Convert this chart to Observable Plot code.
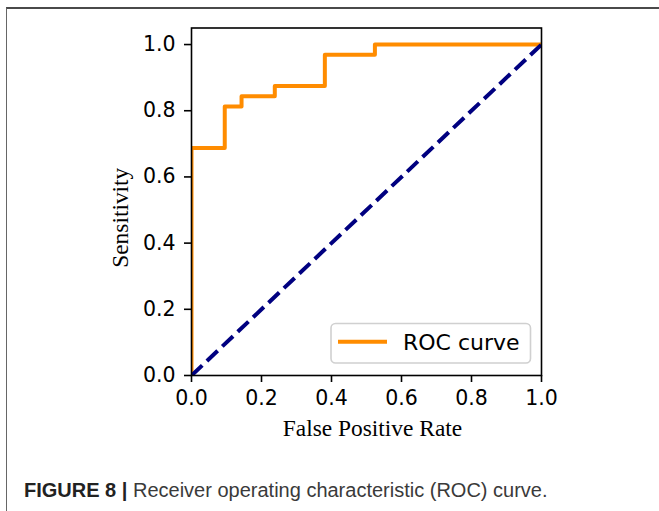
<!DOCTYPE html>
<html><head><meta charset="utf-8">
<script src="https://cdn.jsdelivr.net/npm/d3@7"></script>
<script src="https://cdn.jsdelivr.net/npm/@observablehq/plot@0.6"></script>
<style>
html,body{margin:0;padding:0;background:#fff;}
#wrap{position:relative;width:659px;height:511px;overflow:hidden;}
#border{position:absolute;left:6px;top:7px;width:700px;height:600px;border-top:2px solid #4a4a4a;border-left:1.5px solid #666;}
#chart{position:absolute;left:0;top:0;}
#overlay{position:absolute;left:0;top:0;}
</style>
</head><body>
<div id="wrap">
  <div id="border"></div>
  <div id="chart"></div>
  <svg id="overlay" width="659" height="511"></svg>
</div>
<script>
// ROC curve points (false positive rate, sensitivity)
const fpr = [0, 0, 0.095, 0.095, 0.143, 0.143, 0.238, 0.238, 0.381, 0.381, 0.524, 0.524, 1];
const tpr = [0, 0.6875, 0.6875, 0.8125, 0.8125, 0.844, 0.844, 0.875, 0.875, 0.969, 0.969, 1, 1];
// chance diagonal
const chanceX = [0, 1];
const chanceY = [0, 1];
const xTicks = [0, 0.2, 0.4, 0.6, 0.8, 1.0];
const yTicks = [0, 0.2, 0.4, 0.6, 0.8, 1.0];
const xLabel = "False Positive Rate";
const yLabel = "Sensitivity";
const legendLabel = "ROC curve";
const captionBold = "FIGURE 8 |";
const captionText = " Receiver operating characteristic (ROC) curve.";

const roc = fpr.map((x, i) => ({x, y: tpr[i]}));
const chance = chanceX.map((x, i) => ({x, y: chanceY[i]}));

const tickFont = "DejaVu Sans";
const plot = Plot.plot({
  width: 659,
  height: 460,
  marginLeft: 191,
  marginRight: 118,
  marginTop: 27.5,
  marginBottom: 85,
  style: {background: "transparent", color: "#000"},
  x: {domain: [0, 1]},
  y: {domain: [0, 1.05]},
  marks: [
    Plot.line(roc, {x: "x", y: "y", stroke: "#ff8c00", strokeWidth: 4, strokeLinejoin: "round", clip: true}),
    Plot.line(chance, {x: "x", y: "y", stroke: "#000080", strokeWidth: 4, strokeDasharray: "14.8,6.4", strokeLinecap: "butt", clip: true}),
    Plot.frame({stroke: "#000", strokeWidth: 1.6}),
    Plot.axisX({ticks: xTicks, tickFormat: d3.format(".1f"), tickSize: 7, tickPadding: 8, strokeWidth: 1.6, fontSize: 20.5, fontFamily: tickFont, label: null}),
    Plot.axisY({ticks: yTicks, tickFormat: d3.format(".1f"), tickSize: 7, tickPadding: 9, strokeWidth: 1.6, fontSize: 20.5, fontFamily: tickFont, label: null}),
    Plot.text([xLabel], {text: d => d, frameAnchor: "bottom", dx: 6, dy: 60, fontSize: 23.4, fontFamily: "Liberation Serif", fill: "#000"}),
    Plot.text([yLabel], {text: d => d, frameAnchor: "left", textAnchor: "middle", dx: -71, dy: 16, rotate: -90, fontSize: 23.4, fontFamily: "Liberation Serif", fill: "#000"})
  ]
});
document.getElementById("chart").appendChild(plot);

// legend + caption overlay
const svg = d3.select("#overlay");
const lg = svg.append("g");
lg.append("rect").attr("x", 331).attr("y", 323.5).attr("width", 199.5).attr("height", 39.5)
  .attr("rx", 4.5).attr("fill", "rgba(255,255,255,0.8)").attr("stroke", "#d0d0d0").attr("stroke-width", 1.6);
lg.append("line").attr("x1", 338).attr("x2", 387).attr("y1", 341.7).attr("y2", 341.7)
  .attr("stroke", "#ff8c00").attr("stroke-width", 4);
lg.append("text").attr("x", 403).attr("y", 349.5).attr("font-family", tickFont).attr("font-size", 22)
  .attr("fill", "#000").text(legendLabel);

const cap = svg.append("text").attr("x", 24).attr("y", 497).attr("font-family", "Liberation Sans, Arial, sans-serif")
  .attr("font-size", 20).attr("fill", "#3a3a3a");
cap.append("tspan").attr("font-weight", "bold").attr("fill", "#222").text(captionBold);
cap.append("tspan").text(captionText);
</script>
</body></html>
